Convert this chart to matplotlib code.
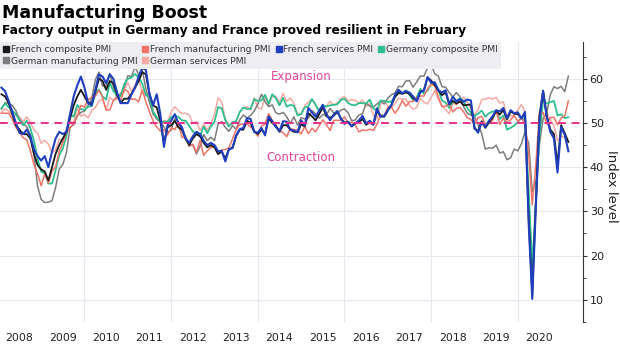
import matplotlib.pyplot as plt
import numpy as np
from matplotlib.lines import Line2D

# monthly index values, Jan 2008 .. Feb 2021
french_composite = [
    56.5, 56.0, 54.5, 52.0, 49.5, 48.5, 47.5, 47.5, 46.5, 43.0, 40.5, 39.5,
    39.0, 37.0, 40.0, 43.0, 45.0, 46.5, 48.0, 51.0, 54.0, 56.0, 57.5, 56.0,
    54.5, 54.5, 57.0, 60.0, 59.5, 57.5, 59.5, 59.0, 56.5, 54.5, 55.5, 55.5,
    56.5, 58.0, 59.5, 61.5, 61.0, 56.5, 54.0, 53.5, 50.5, 45.5, 49.0, 49.5,
    50.5, 49.0, 48.5, 46.5, 45.0, 46.5, 47.5, 47.0, 45.5, 44.5, 45.0, 44.5,
    43.0, 43.5, 42.0, 44.0, 44.5, 47.0, 48.5, 48.5, 50.5, 50.0, 48.0, 47.5,
    48.5, 47.5, 51.0, 50.0, 49.3, 48.0, 49.5, 49.5, 48.5, 48.0, 47.9, 49.7,
    49.2, 52.2, 51.5, 50.6, 52.0, 53.6, 51.5, 51.2, 51.6, 52.6, 51.0, 50.1,
    50.2, 49.3, 50.0, 50.2, 50.9, 49.6, 50.1, 49.6, 52.7, 51.6, 51.4, 52.8,
    54.1, 55.9, 56.8, 56.6, 56.9, 56.6, 55.6, 55.0, 57.1, 57.4, 60.3, 59.6,
    58.6, 57.3, 56.3, 56.9, 54.2, 55.0, 54.4, 54.9, 54.0, 54.1, 54.2, 48.7,
    48.2, 50.4, 48.9, 50.1, 51.2, 52.7, 51.9, 52.9, 50.8, 52.6, 52.1, 52.0,
    51.1, 52.0, 28.9, 11.1, 32.1, 51.7, 57.3, 51.6, 48.5, 47.5, 40.6, 49.5,
    47.7, 45.7,
]
french_manufacturing = [
    52.2, 52.2, 52.2, 50.9, 49.0, 47.8, 46.7, 46.2, 43.8, 40.6, 38.5, 35.8,
    38.5, 36.4, 39.1, 40.1, 43.6, 45.6, 47.9, 48.8, 50.0, 51.4, 54.0, 53.6,
    55.3, 55.8, 56.1, 57.4, 55.8, 52.9, 53.0, 55.1, 55.6, 55.2, 57.6, 57.2,
    55.4, 55.4, 54.8, 57.5, 54.8, 52.5, 50.5, 49.1, 48.2, 48.5, 47.3, 48.9,
    48.5, 50.0, 46.7, 46.9, 44.7, 45.2, 43.4, 46.0, 42.7, 43.7, 44.5, 44.6,
    42.9, 43.9, 44.0, 44.4, 46.4, 48.4, 49.7, 49.7, 49.8, 49.1, 48.4, 47.0,
    49.3, 49.7, 52.1, 50.6, 49.6, 48.2, 47.8, 46.9, 48.8, 48.5, 48.4, 47.5,
    49.2, 47.6, 48.8, 48.0, 49.4, 50.7, 49.6, 48.3, 50.6, 50.6, 50.6, 51.4,
    50.0, 50.2, 49.6, 48.0, 48.4, 48.3, 48.6, 48.3, 49.7, 51.8, 51.7, 53.5,
    53.6, 52.2, 53.3, 55.1, 53.8, 54.8, 54.9, 55.8, 56.1, 56.1, 57.7, 58.8,
    58.4, 55.9, 53.7, 53.8, 54.4, 52.5, 53.3, 53.5, 52.5, 51.2, 50.8, 49.7,
    51.2, 51.5, 49.7, 50.0, 50.6, 52.9, 49.7, 51.1, 50.1, 50.7, 51.7, 50.4,
    51.1, 49.8, 43.2, 31.5, 40.6, 52.3, 52.4, 49.8, 51.2, 51.3, 49.6, 51.1,
    51.6, 55.0,
]
french_services = [
    58.0, 57.2, 55.0, 52.5, 50.0, 47.8, 47.5, 48.5, 47.0, 44.0, 42.5, 41.5,
    42.5, 40.0, 43.5, 46.5, 48.0, 47.5, 48.0, 52.0, 56.0, 58.5, 60.5, 58.0,
    54.5, 54.0, 57.5, 61.0, 60.5, 59.0, 61.0, 60.0, 57.0, 54.5, 54.5, 54.5,
    56.5, 58.0, 60.5, 62.5, 62.0, 56.5, 54.0, 56.5, 52.0, 44.6, 49.5, 50.5,
    52.0, 50.0, 49.0, 46.5, 45.5, 47.0, 48.0, 47.5, 46.0, 45.0, 45.5, 45.0,
    43.6, 43.7, 41.3, 44.1, 44.3, 47.2, 48.6, 48.9, 51.1, 50.9, 48.0, 47.8,
    48.9, 47.2, 51.5, 50.4, 49.1, 48.2, 50.4, 50.3, 48.4, 48.3, 47.9, 50.6,
    49.4, 53.4, 52.4, 51.4, 52.8, 54.1, 52.0, 50.6, 51.9, 52.7, 51.0, 49.8,
    50.3, 49.2, 49.9, 50.6, 51.6, 49.9, 50.5, 49.7, 53.3, 51.4, 51.6, 52.9,
    54.1, 56.4, 57.5, 56.7, 57.2, 56.9, 56.0, 54.9, 57.0, 57.3, 60.4, 59.1,
    59.2, 57.4, 56.9, 57.4, 54.3, 55.9, 54.9, 55.4, 54.8, 55.3, 55.1, 49.0,
    47.8, 50.2, 49.1, 50.5, 51.5, 52.9, 52.6, 53.4, 51.1, 52.9, 52.2, 52.4,
    51.0, 52.5, 27.4, 10.2, 31.1, 50.7, 57.3, 51.5, 48.0, 46.5, 38.8, 49.1,
    47.3, 43.6,
]
germany_composite = [
    53.3, 54.4, 53.6, 52.8, 52.0, 50.6, 49.5, 50.5, 48.8, 46.0, 41.9, 39.0,
    38.6, 36.3, 36.3, 39.3, 42.7, 44.3, 47.0, 52.0, 51.4, 54.1, 53.1, 53.0,
    53.7, 53.8, 56.6, 57.6, 56.0, 55.3, 59.1, 57.2, 56.4, 56.1, 58.8, 60.0,
    60.3, 61.1, 60.3, 58.9, 56.3, 56.0, 52.5, 51.3, 50.3, 50.3, 50.3, 51.3,
    51.6, 51.4, 50.6, 50.5, 49.3, 48.1, 47.5, 47.0, 49.2, 47.7, 49.2, 50.3,
    53.6, 53.3, 50.6, 49.2, 50.2, 50.4, 52.5, 53.5, 53.2, 53.2, 55.4, 55.0,
    55.1, 56.4, 54.3, 56.5, 55.6, 54.0, 55.7, 53.7, 54.1, 53.9, 51.7, 52.0,
    53.5, 53.8, 55.4, 54.1, 52.6, 54.0, 53.7, 54.0, 54.1, 54.2, 55.2, 55.5,
    54.5, 54.1, 54.0, 54.5, 54.5, 54.4, 55.3, 53.3, 52.8, 55.1, 55.0, 54.8,
    54.8, 56.1, 57.1, 56.7, 57.4, 56.4, 55.2, 55.8, 57.7, 56.6, 57.3, 58.9,
    59.0, 57.6, 55.1, 54.6, 53.4, 54.8, 55.0, 55.6, 55.0, 53.4, 52.3, 51.6,
    52.1, 52.8, 51.4, 52.2, 52.6, 52.6, 50.9, 51.7, 48.5, 48.9, 49.4, 50.2,
    51.2, 50.7, 35.0, 17.4, 32.3, 47.0, 55.3, 54.4, 54.7, 55.0, 51.7, 52.0,
    51.1, 51.3,
]
german_manufacturing = [
    53.1, 54.6, 54.4, 54.0, 52.8, 50.8, 49.9, 49.1, 47.4, 42.9, 35.7, 32.7,
    32.0, 32.1, 32.4, 35.4, 39.6, 40.6, 43.3, 49.1, 49.6, 51.7, 52.4, 52.7,
    54.0, 55.6, 59.8, 61.5, 58.4, 58.4, 61.2, 58.2, 55.7, 56.6, 58.1, 60.7,
    60.5, 62.7, 60.9, 62.0, 57.7, 54.6, 52.0, 50.9, 50.3, 49.1, 47.9, 48.4,
    51.0, 50.2, 48.4, 46.2, 45.2, 45.0, 43.0, 44.7, 47.4, 46.0, 46.8, 46.0,
    49.8, 50.3, 49.0, 48.1, 49.4, 48.6, 50.7, 51.8, 51.1, 51.7, 52.7, 54.3,
    56.5, 54.8, 53.7, 54.1, 52.3, 52.0, 52.4, 51.4, 49.9, 51.4, 49.5, 51.2,
    50.9, 51.1, 52.8, 52.1, 51.1, 51.9, 51.8, 53.3, 52.3, 52.1, 52.9, 53.2,
    52.3, 50.5, 50.7, 51.8, 52.1, 54.5, 53.8, 53.6, 54.3, 55.0, 54.3, 55.6,
    56.4, 56.8, 58.3, 58.2, 59.5, 59.6, 58.1, 59.3, 60.6, 60.6, 62.5, 63.3,
    61.1, 60.6, 58.2, 58.1, 56.9, 55.9, 56.9, 55.9, 53.7, 52.2, 51.8, 51.5,
    49.7, 47.6, 44.1, 44.4, 44.3, 45.0, 43.2, 43.5, 41.7, 42.1, 44.1, 43.7,
    45.3, 48.0, 45.4, 34.5, 36.6, 45.2, 51.0, 52.2, 56.4, 58.2, 57.8, 58.3,
    57.1, 60.6,
]
german_services = [
    52.4, 53.2, 52.7, 51.8, 51.6, 51.4, 50.2, 51.4, 50.2, 48.4, 47.7, 45.4,
    46.1, 45.2, 43.3, 43.9, 46.4, 45.9, 48.7, 50.4, 50.1, 53.4, 51.5, 52.0,
    51.1, 52.8, 53.5, 55.0, 55.4, 53.0, 55.8, 55.1, 56.2, 55.1, 57.3, 59.2,
    57.1, 58.6, 60.1, 56.8, 56.1, 56.7, 52.9, 51.1, 49.7, 50.6, 50.3, 52.4,
    53.7, 52.8, 52.1, 52.2, 51.8, 49.9, 50.3, 48.3, 49.7, 48.4, 49.7, 52.0,
    55.7, 54.7, 50.9, 49.6, 49.7, 50.4, 52.5, 53.5, 53.7, 52.9, 55.7, 53.5,
    53.1, 55.9, 54.0, 56.0, 56.0, 54.6, 56.7, 54.9, 55.7, 54.4, 52.1, 52.1,
    54.0, 54.7, 55.4, 54.0, 53.0, 53.8, 53.8, 54.9, 54.1, 54.5, 55.6, 56.0,
    55.0, 55.3, 55.1, 54.5, 55.2, 53.7, 54.4, 51.7, 50.9, 54.2, 55.1, 53.8,
    53.4, 54.4, 55.6, 55.4, 55.4, 54.0, 53.1, 53.5, 55.6, 54.7, 54.3, 55.8,
    57.3, 55.3, 53.9, 53.0, 52.1, 54.5, 54.1, 55.0, 55.9, 54.7, 53.3, 51.8,
    53.0, 55.3, 55.4, 55.7, 55.4, 55.8, 54.5, 54.8, 51.4, 51.6, 51.7, 52.9,
    54.2, 52.5, 31.7, 16.2, 32.6, 47.3, 55.6, 52.5, 50.6, 49.5, 46.0, 47.0,
    46.7, 45.9,
]

years = list(range(2008, 2021))
y_ticks = [10, 20, 30, 40, 50, 60]

# x as fractional year, each reading at month end
t = 2008 + np.arange(1, len(french_composite) + 1) / 12.0

plt.rcParams["font.family"] = ["DejaVu Sans"]

fig = plt.figure(figsize=(6.2, 3.51), dpi=100)
ax = fig.add_axes([0.0, 0.083, 0.940, 0.797])

series = [
    (german_services, "German services PMI", "#f6aaa4", 1.1),
    (german_manufacturing, "German manufacturing PMI", "#7d7d7d", 1.1),
    (germany_composite, "Germany composite PMI", "#2fbf8f", 1.3),
    (french_manufacturing, "French manufacturing PMI", "#ee7468", 1.1),
    (french_composite, "French composite PMI", "#1a1a1a", 1.3),
    (french_services, "French services PMI", "#1f3fbf", 1.5),
]
colors = {}
for vals, name, c, lw in series:
    ax.plot(t, vals, color=c, lw=lw, zorder=3)
    colors[name] = c

ax.axhline(50, color="#e8308c", lw=1.4, ls=(0, (4, 3)), zorder=4)
ax.text(2015.0, 60.6, "Expansion", color="#e0459b", fontsize=8.5, ha="center", va="center")
ax.text(2015.0, 42.1, "Contraction", color="#e0459b", fontsize=8.5, ha="center", va="center")

ax.set_xlim(2008.05, 2021.5)
ax.set_ylim(5, 68.3)

ax.set_xticks([y + 0.5 for y in years])
ax.set_xticklabels([str(y) for y in years])
ax.set_xticks(years[2::2], minor=True)
ax.tick_params(axis="x", which="both", length=0, labelsize=7.8, pad=8, labelcolor="#222222")
ax.grid(axis="x", which="minor", color="#e8e6ef", lw=0.8)

ax.yaxis.tick_right()
ax.set_yticks(y_ticks)
ax.set_yticks(np.arange(5, 66, 5), minor=True)
ax.tick_params(axis="y", which="major", direction="out", length=3, labelsize=8, pad=2,
               color="#333333", labelcolor="#222222")
ax.tick_params(axis="y", which="minor", direction="out", length=2, color="#333333")
ax.grid(axis="y", which="major", color="#e8e6ef", lw=0.8)

for s in ["left", "top", "bottom"]:
    ax.spines[s].set_visible(False)
ax.spines["right"].set_color("#333333")
ax.spines["right"].set_linewidth(0.8)

fig.text(0.987, 0.47, "Index level", rotation=270, fontsize=9.5, ha="center", va="center",
         color="#222222")

order = ["French composite PMI", "German manufacturing PMI",
         "French manufacturing PMI", "German services PMI",
         "French services PMI", "Germany composite PMI"]
handles = [Line2D([], [], marker="s", ls="", color=colors[n], markersize=4.5) for n in order]
leg = ax.legend(handles, order, ncol=4, loc="upper left", bbox_to_anchor=(0, 1),
                borderaxespad=0, frameon=True, fontsize=6.6, handlelength=0.6,
                handletextpad=0.2, columnspacing=0.6, labelspacing=0.25,
                borderpad=0.35, fancybox=False, labelcolor="#333333")
leg.get_frame().set_facecolor("#eeedf2")
leg.get_frame().set_edgecolor("none")
leg.get_frame().set_alpha(1)
leg.set_zorder(5)

fig.text(0.003, 0.962, "Manufacturing Boost", fontsize=12.5, fontweight="bold", va="center")
fig.text(0.003, 0.912, "Factory output in Germany and France proved resilient in February",
         fontsize=8.8, fontweight="bold", va="center")

fig.savefig("out.png", dpi=100)
